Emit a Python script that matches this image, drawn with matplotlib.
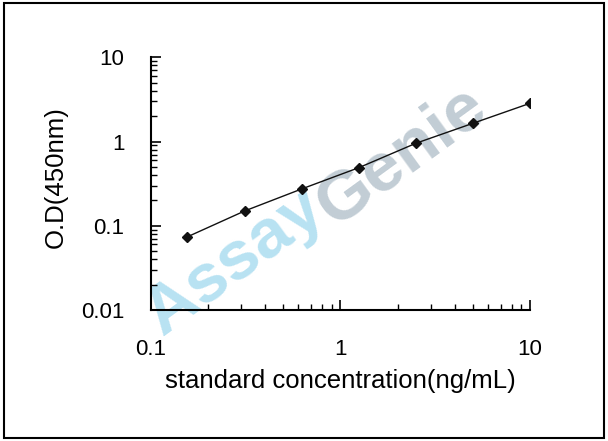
import matplotlib
matplotlib.use("Agg")
import matplotlib.pyplot as plt
from matplotlib.patches import Rectangle
from matplotlib.ticker import LogLocator, NullFormatter, FixedLocator, FixedFormatter

conc = [0.156, 0.3125, 0.625, 1.25, 2.5, 5, 10]
od = [0.074, 0.150, 0.274, 0.490, 0.955, 1.65, 2.85]
x_ticks = [0.1, 1, 10]
x_labels = ["0.1", "1", "10"]
y_ticks = [0.01, 0.1, 1, 10]
y_labels = ["0.01", "0.1", "1", "10"]

plt.rcParams['font.family'] = ['Liberation Sans', 'DejaVu Sans']

fig = plt.figure(figsize=(6.08, 4.41), dpi=100)
fig.patches.append(Rectangle((0.006, 0.007), 0.988, 0.986, transform=fig.transFigure,
                             fill=False, edgecolor='black', linewidth=1.5))

# watermark (behind the axes)
fig.text(0.385, 0.405, "Assay", color='#b8e2f2', fontsize=50, fontweight='bold',
         rotation=36, ha='center', va='center', zorder=0)
fig.text(0.66, 0.645, "Genie", color='#c2cdd5', fontsize=50, fontweight='bold',
         rotation=36, ha='center', va='center', zorder=0)

ax = fig.add_axes([0.248, 0.297, 0.624, 0.573])
ax.set_zorder(2)
ax.set_facecolor('none')
ax.set_xscale('log')
ax.set_yscale('log')
ax.set_xlim(0.1, 10)
ax.set_ylim(0.01, 10)

ax.plot(conc, od, color='#111111', linewidth=1, marker='D', markersize=5, zorder=3)

for s in ['top', 'right']:
    ax.spines[s].set_visible(False)
for s in ['left', 'bottom']:
    ax.spines[s].set_linewidth(1.5)

ax.xaxis.set_major_locator(FixedLocator(x_ticks))
ax.xaxis.set_major_formatter(FixedFormatter(x_labels))
ax.yaxis.set_major_locator(FixedLocator(y_ticks))
ax.yaxis.set_major_formatter(FixedFormatter(y_labels))
ax.xaxis.set_minor_locator(LogLocator(base=10, subs=range(2, 10)))
ax.yaxis.set_minor_locator(LogLocator(base=10, subs=range(2, 10)))
ax.xaxis.set_minor_formatter(NullFormatter())
ax.yaxis.set_minor_formatter(NullFormatter())
ax.tick_params(which='major', direction='in', length=7, width=1.2, labelsize=16)
ax.tick_params(which='minor', direction='in', length=4.5, width=1)
ax.tick_params(axis='x', which='both', pad=21)
ax.tick_params(axis='y', which='both', pad=19)

ax.set_xlabel("standard concentration(ng/mL)", fontsize=18.5, labelpad=6)
ax.set_ylabel("O.D(450nm)", fontsize=18.5, labelpad=9)
ax.yaxis.set_label_coords(-0.22, 0.525)

fig.savefig("out.png", dpi=100)
